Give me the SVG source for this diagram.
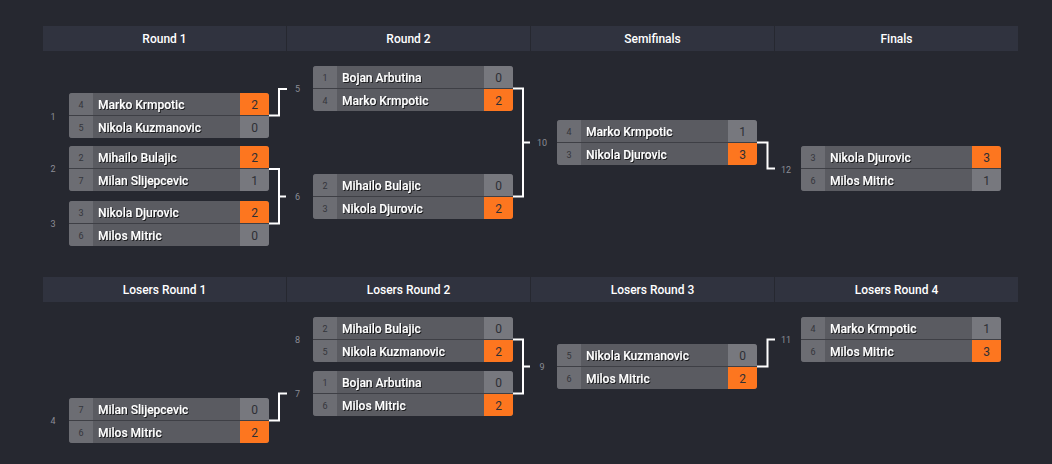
<svg xmlns="http://www.w3.org/2000/svg" width="1052" height="464" viewBox="0 0 1052 464">
<style>
.bg{fill:#262830}
.hd{fill:#30333f}
.hs{fill:#262830}
.ht{fill:#ffffff;font-family:Roboto,"Liberation Sans",sans-serif;font-size:12px;font-weight:500;text-anchor:middle}
.nm{fill:#5a5b61}
.sd{fill:#6c6d73}
.sc{fill:#77787e}
.win{fill:#fd761f}
.dv{fill:#3e3f45}
.st{fill:#34353b;font-family:Roboto,"Liberation Sans",sans-serif;font-size:9px;text-anchor:middle}
.nt{fill:#ffffff;font-family:Roboto,"Liberation Sans",sans-serif;font-size:12px;font-weight:500;filter:url(#sh)}
.pt{fill:#2e2f35;font-family:Roboto,"Liberation Sans",sans-serif;font-size:12px;text-anchor:middle}
.lb{fill:#8b8d95;font-family:Roboto,"Liberation Sans",sans-serif;font-size:9px;text-anchor:middle}
.cn{fill:none;stroke:#ffffff;stroke-width:2}
</style>
<defs>
<clipPath id="mc"><rect width="200" height="45" rx="3"/></clipPath>
<filter id="sh" x="-5%" y="-20%" width="110%" height="150%"><feDropShadow dx="1" dy="1" stdDeviation="0.3" flood-color="#000" flood-opacity="0.7"/></filter>
</defs>
<rect class="bg" width="1052" height="464"/>

<g id="headers">
<rect class="hd" x="43" y="26" width="975" height="25"/>
<rect class="hs" x="286" y="26" width="1" height="25"/>
<rect class="hs" x="530" y="26" width="1" height="25"/>
<rect class="hs" x="774" y="26" width="1" height="25"/>
<text class="ht" x="164.5" y="43">Round 1</text>
<text class="ht" x="408.5" y="43">Round 2</text>
<text class="ht" x="652.5" y="43">Semifinals</text>
<text class="ht" x="896.5" y="43">Finals</text>
<rect class="hd" x="43" y="277" width="975" height="25"/>
<rect class="hs" x="286" y="277" width="1" height="25"/>
<rect class="hs" x="530" y="277" width="1" height="25"/>
<rect class="hs" x="774" y="277" width="1" height="25"/>
<text class="ht" x="164.5" y="294">Losers Round 1</text>
<text class="ht" x="408.5" y="294">Losers Round 2</text>
<text class="ht" x="652.5" y="294">Losers Round 3</text>
<text class="ht" x="896.5" y="294">Losers Round 4</text>
</g>

<g id="connectors">
<path class="cn" d="M269,115.5 H279 V89 H287"/>
<path class="cn" d="M269,169 H279 V223.5 H269 M279,196.5 H286"/>
<path class="cn" d="M513,88.5 H523 V196.5 H513 M523,142.5 H530"/>
<path class="cn" d="M757,142.5 H767.5 V168.5 H775"/>
<path class="cn" d="M269,420.5 H279 V393.5 H287"/>
<path class="cn" d="M513,339.5 H523 V393.5 H513 M523,366.5 H530"/>
<path class="cn" d="M757,366.5 H767.5 V339.5 H775"/>
</g>

<g id="labels">
<text class="lb" x="53" y="119.5">1</text>
<text class="lb" x="53" y="172">2</text>
<text class="lb" x="53" y="227">3</text>
<text class="lb" x="53" y="424">4</text>
<text class="lb" x="297.5" y="92">5</text>
<text class="lb" x="297.5" y="200">6</text>
<text class="lb" x="297.5" y="397">7</text>
<text class="lb" x="297.5" y="343">8</text>
<text class="lb" x="542" y="370">9</text>
<text class="lb" x="542" y="145.5">10</text>
<text class="lb" x="786" y="343">11</text>
<text class="lb" x="786" y="172.5">12</text>
</g>

<g id="match1" transform="translate(69,93)">
<g clip-path="url(#mc)"><rect class="nm" width="200" height="45"/><rect class="sd" width="24" height="45"/><rect class="win" x="171" width="29" height="22"/><rect class="sc" x="171" y="23" width="29" height="22"/><rect class="dv" y="22" width="200" height="1"/></g>
<text class="st" x="12" y="14.5">4</text><text class="nt" x="29" y="15.5">Marko Krmpotic</text><text class="pt" x="185.5" y="15.5">2</text>
<text class="st" x="12" y="37.5">5</text><text class="nt" x="29" y="38.5">Nikola Kuzmanovic</text><text class="pt" x="185.5" y="38.5">0</text>
</g>

<g id="match2" transform="translate(69,146)">
<g clip-path="url(#mc)"><rect class="nm" width="200" height="45"/><rect class="sd" width="24" height="45"/><rect class="win" x="171" width="29" height="22"/><rect class="sc" x="171" y="23" width="29" height="22"/><rect class="dv" y="22" width="200" height="1"/></g>
<text class="st" x="12" y="14.5">2</text><text class="nt" x="29" y="15.5">Mihailo Bulajic</text><text class="pt" x="185.5" y="15.5">2</text>
<text class="st" x="12" y="37.5">7</text><text class="nt" x="29" y="38.5">Milan Slijepcevic</text><text class="pt" x="185.5" y="38.5">1</text>
</g>

<g id="match3" transform="translate(69,201)">
<g clip-path="url(#mc)"><rect class="nm" width="200" height="45"/><rect class="sd" width="24" height="45"/><rect class="win" x="171" width="29" height="22"/><rect class="sc" x="171" y="23" width="29" height="22"/><rect class="dv" y="22" width="200" height="1"/></g>
<text class="st" x="12" y="14.5">3</text><text class="nt" x="29" y="15.5">Nikola Djurovic</text><text class="pt" x="185.5" y="15.5">2</text>
<text class="st" x="12" y="37.5">6</text><text class="nt" x="29" y="38.5">Milos Mitric</text><text class="pt" x="185.5" y="38.5">0</text>
</g>

<g id="match5" transform="translate(313,66)">
<g clip-path="url(#mc)"><rect class="nm" width="200" height="45"/><rect class="sd" width="24" height="45"/><rect class="sc" x="171" width="29" height="22"/><rect class="win" x="171" y="23" width="29" height="22"/><rect class="dv" y="22" width="200" height="1"/></g>
<text class="st" x="12" y="14.5">1</text><text class="nt" x="29" y="15.5">Bojan Arbutina</text><text class="pt" x="185.5" y="15.5">0</text>
<text class="st" x="12" y="37.5">4</text><text class="nt" x="29" y="38.5">Marko Krmpotic</text><text class="pt" x="185.5" y="38.5">2</text>
</g>

<g id="match6" transform="translate(313,174)">
<g clip-path="url(#mc)"><rect class="nm" width="200" height="45"/><rect class="sd" width="24" height="45"/><rect class="sc" x="171" width="29" height="22"/><rect class="win" x="171" y="23" width="29" height="22"/><rect class="dv" y="22" width="200" height="1"/></g>
<text class="st" x="12" y="14.5">2</text><text class="nt" x="29" y="15.5">Mihailo Bulajic</text><text class="pt" x="185.5" y="15.5">0</text>
<text class="st" x="12" y="37.5">3</text><text class="nt" x="29" y="38.5">Nikola Djurovic</text><text class="pt" x="185.5" y="38.5">2</text>
</g>

<g id="match10" transform="translate(557,120)">
<g clip-path="url(#mc)"><rect class="nm" width="200" height="45"/><rect class="sd" width="24" height="45"/><rect class="sc" x="171" width="29" height="22"/><rect class="win" x="171" y="23" width="29" height="22"/><rect class="dv" y="22" width="200" height="1"/></g>
<text class="st" x="12" y="14.5">4</text><text class="nt" x="29" y="15.5">Marko Krmpotic</text><text class="pt" x="185.5" y="15.5">1</text>
<text class="st" x="12" y="37.5">3</text><text class="nt" x="29" y="38.5">Nikola Djurovic</text><text class="pt" x="185.5" y="38.5">3</text>
</g>

<g id="match12" transform="translate(801,146)">
<g clip-path="url(#mc)"><rect class="nm" width="200" height="45"/><rect class="sd" width="24" height="45"/><rect class="win" x="171" width="29" height="22"/><rect class="sc" x="171" y="23" width="29" height="22"/><rect class="dv" y="22" width="200" height="1"/></g>
<text class="st" x="12" y="14.5">3</text><text class="nt" x="29" y="15.5">Nikola Djurovic</text><text class="pt" x="185.5" y="15.5">3</text>
<text class="st" x="12" y="37.5">6</text><text class="nt" x="29" y="38.5">Milos Mitric</text><text class="pt" x="185.5" y="38.5">1</text>
</g>

<g id="match4" transform="translate(69,398)">
<g clip-path="url(#mc)"><rect class="nm" width="200" height="45"/><rect class="sd" width="24" height="45"/><rect class="sc" x="171" width="29" height="22"/><rect class="win" x="171" y="23" width="29" height="22"/><rect class="dv" y="22" width="200" height="1"/></g>
<text class="st" x="12" y="14.5">7</text><text class="nt" x="29" y="15.5">Milan Slijepcevic</text><text class="pt" x="185.5" y="15.5">0</text>
<text class="st" x="12" y="37.5">6</text><text class="nt" x="29" y="38.5">Milos Mitric</text><text class="pt" x="185.5" y="38.5">2</text>
</g>

<g id="match8" transform="translate(313,317)">
<g clip-path="url(#mc)"><rect class="nm" width="200" height="45"/><rect class="sd" width="24" height="45"/><rect class="sc" x="171" width="29" height="22"/><rect class="win" x="171" y="23" width="29" height="22"/><rect class="dv" y="22" width="200" height="1"/></g>
<text class="st" x="12" y="14.5">2</text><text class="nt" x="29" y="15.5">Mihailo Bulajic</text><text class="pt" x="185.5" y="15.5">0</text>
<text class="st" x="12" y="37.5">5</text><text class="nt" x="29" y="38.5">Nikola Kuzmanovic</text><text class="pt" x="185.5" y="38.5">2</text>
</g>

<g id="match7" transform="translate(313,371)">
<g clip-path="url(#mc)"><rect class="nm" width="200" height="45"/><rect class="sd" width="24" height="45"/><rect class="sc" x="171" width="29" height="22"/><rect class="win" x="171" y="23" width="29" height="22"/><rect class="dv" y="22" width="200" height="1"/></g>
<text class="st" x="12" y="14.5">1</text><text class="nt" x="29" y="15.5">Bojan Arbutina</text><text class="pt" x="185.5" y="15.5">0</text>
<text class="st" x="12" y="37.5">6</text><text class="nt" x="29" y="38.5">Milos Mitric</text><text class="pt" x="185.5" y="38.5">2</text>
</g>

<g id="match9" transform="translate(557,344)">
<g clip-path="url(#mc)"><rect class="nm" width="200" height="45"/><rect class="sd" width="24" height="45"/><rect class="sc" x="171" width="29" height="22"/><rect class="win" x="171" y="23" width="29" height="22"/><rect class="dv" y="22" width="200" height="1"/></g>
<text class="st" x="12" y="14.5">5</text><text class="nt" x="29" y="15.5">Nikola Kuzmanovic</text><text class="pt" x="185.5" y="15.5">0</text>
<text class="st" x="12" y="37.5">6</text><text class="nt" x="29" y="38.5">Milos Mitric</text><text class="pt" x="185.5" y="38.5">2</text>
</g>

<g id="match11" transform="translate(801,317)">
<g clip-path="url(#mc)"><rect class="nm" width="200" height="45"/><rect class="sd" width="24" height="45"/><rect class="sc" x="171" width="29" height="22"/><rect class="win" x="171" y="23" width="29" height="22"/><rect class="dv" y="22" width="200" height="1"/></g>
<text class="st" x="12" y="14.5">4</text><text class="nt" x="29" y="15.5">Marko Krmpotic</text><text class="pt" x="185.5" y="15.5">1</text>
<text class="st" x="12" y="37.5">6</text><text class="nt" x="29" y="38.5">Milos Mitric</text><text class="pt" x="185.5" y="38.5">3</text>
</g>
</svg>
